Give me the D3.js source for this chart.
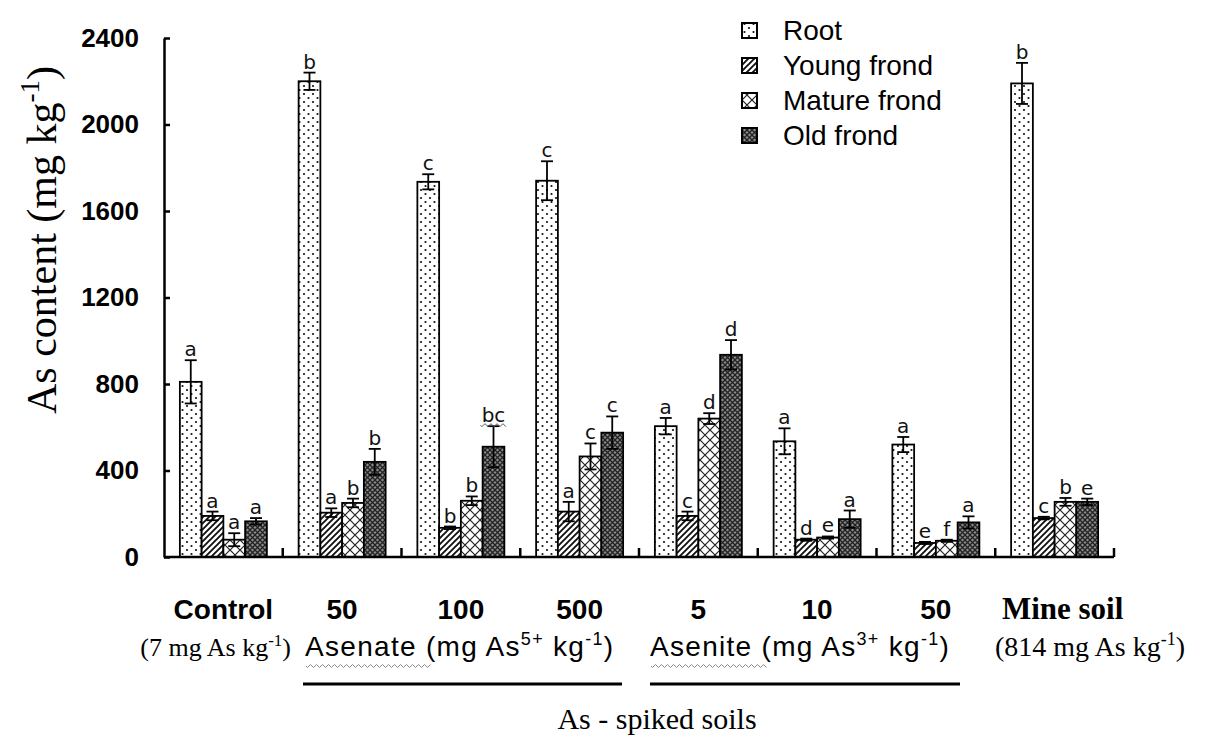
<html>
<head>
<title>As content</title>
<script src="https://d3js.org/d3.v7.min.js"></script>
<style>
body { margin: 0; background: #fff; }
svg { display: block; }
</style>
</head>
<body>
<div id="chart"></div>
<script>

var width = 1217;
var height = 741;
var plotLeft = 164, plotRight = 1114, plotTop = 38, plotBottom = 557;

// groups along the x axis
var groupKeys = ["control", "as5_50", "as5_100", "as5_500", "as3_5", "as3_10", "as3_50", "mine"];
var groupLabels = ["Control", "50", "100", "500", "5", "10", "50", "Mine soil"];
var series = ["Root", "Young frond", "Mature frond", "Old frond"];

// As content (mg/kg)
var root      = [810, 2200, 1735, 1740, 605, 535, 520, 2190];
var rootErr   = [100, 40, 35, 90, 38, 60, 35, 95];
var young     = [190, 205, 135, 210, 190, 80, 65, 180];
var youngErr  = [20, 20, 6, 45, 20, 5, 5, 6];
var mature    = [80, 250, 260, 465, 640, 90, 75, 255];
var matureErr = [30, 20, 20, 60, 25, 5, 5, 18];
var old       = [165, 440, 510, 575, 935, 175, 160, 255];
var oldErr    = [15, 60, 95, 75, 68, 40, 28, 15];

// significance letters
var rootLetters   = ["a", "b", "c", "c", "a", "a", "a", "b"];
var youngLetters  = ["a", "a", "b", "a", "c", "d", "e", "c"];
var matureLetters = ["a", "b", "b", "c", "d", "e", "f", "b"];
var oldLetters    = ["a", "b", "bc", "c", "d", "a", "a", "e"];

var yTicks = [0, 400, 800, 1200, 1600, 2000, 2400];

var values = [root, young, mature, old];
var errs = [rootErr, youngErr, matureErr, oldErr];
var letters = [rootLetters, youngLetters, matureLetters, oldLetters];

var bars = [];
groupKeys.forEach(function(g, i) {
  series.forEach(function(s, j) {
    bars.push({group: g, series: s, idx: j, value: values[j][i], err: errs[j][i], letter: letters[j][i]});
  });
});

var svg = d3.select("#chart")
  .append("svg")
  .attr("width", width)
  .attr("height", height);

var defs = svg.append("defs");

// Root: staggered dots
var p0 = defs.append("pattern").attr("id", "pat0")
  .attr("patternUnits", "userSpaceOnUse").attr("width", 9).attr("height", 8);
p0.append("rect").attr("width", 9).attr("height", 8).attr("fill", "#fff");
p0.append("circle").attr("cx", 2.5).attr("cy", 2).attr("r", 1.1).attr("fill", "#111");
p0.append("circle").attr("cx", 7).attr("cy", 6).attr("r", 1.1).attr("fill", "#111");

// Young frond: diagonal hatch
var p1 = defs.append("pattern").attr("id", "pat1")
  .attr("patternUnits", "userSpaceOnUse").attr("width", 6).attr("height", 6);
p1.append("rect").attr("width", 6).attr("height", 6).attr("fill", "#fff");
p1.append("path").attr("d", "M0,6 L6,0 M-1.5,1.5 L1.5,-1.5 M4.5,7.5 L7.5,4.5")
  .attr("stroke", "#111").attr("stroke-width", 1.9);

// Mature frond: open cross hatch
var p2 = defs.append("pattern").attr("id", "pat2")
  .attr("patternUnits", "userSpaceOnUse").attr("width", 10).attr("height", 10);
p2.append("rect").attr("width", 10).attr("height", 10).attr("fill", "#fff");
p2.append("path").attr("d", "M0,0 L10,10 M10,0 L0,10")
  .attr("stroke", "#222").attr("stroke-width", 1.2);

// Old frond: dense dark cross hatch
var p3 = defs.append("pattern").attr("id", "pat3")
  .attr("patternUnits", "userSpaceOnUse").attr("width", 5).attr("height", 5);
p3.append("rect").attr("width", 5).attr("height", 5).attr("fill", "#8a8a8a");
p3.append("path").attr("d", "M0,0 L5,5 M5,0 L0,5")
  .attr("stroke", "#222").attr("stroke-width", 1.3);

var x0 = d3.scaleBand()
  .domain(groupKeys)
  .range([plotLeft, plotRight]);

var x1 = d3.scaleBand()
  .domain(series)
  .range([0, x0.bandwidth()])
  .paddingOuter(0.73);

var y = d3.scaleLinear()
  .domain([0, 2400])
  .range([plotBottom, plotTop]);

// bars
svg.append("g").selectAll("rect")
  .data(bars)
  .enter()
    .append("rect")
    .attr("x", d => x0(d.group) + x1(d.series))
    .attr("y", d => y(d.value))
    .attr("width", x1.bandwidth())
    .attr("height", d => y(0) - y(d.value))
    .attr("fill", d => "url(#pat" + d.idx + ")")
    .attr("stroke", "#000")
    .attr("stroke-width", 1.8);

// error bars
var eb = svg.append("g").attr("stroke", "#000").attr("stroke-width", 1.8);
bars.forEach(function(d) {
  var cx = x0(d.group) + x1(d.series) + x1.bandwidth() / 2;
  var hi = y(d.value + d.err), lo = y(d.value - d.err);
  eb.append("line").attr("x1", cx).attr("x2", cx).attr("y1", hi).attr("y2", lo);
  eb.append("line").attr("x1", cx - 6).attr("x2", cx + 6).attr("y1", hi).attr("y2", hi);
  eb.append("line").attr("x1", cx - 6).attr("x2", cx + 6).attr("y1", lo).attr("y2", lo);
});

// letters
svg.append("g").selectAll("text")
  .data(bars)
  .enter()
    .append("text")
    .attr("x", d => x0(d.group) + x1(d.series) + x1.bandwidth() / 2)
    .attr("y", d => y(d.value + d.err) - 4)
    .attr("text-anchor", "middle")
    .style("font-family", "'DejaVu Sans', sans-serif")
    .style("font-size", "20px")
    .style("fill", "#111")
    .text(d => d.letter);

// wavy spell-check mark
function wavy(x, yy, len) {
  var p = "M" + x + "," + yy;
  for (var i = 0; i < len; i += 3) {
    p += " L" + (x + i + 1.5) + "," + (yy + (i / 3 % 2 ? -1.5 : 1.5));
  }
  return p;
}
var bcBar = bars.filter(d => d.letter == "bc")[0];
var bcX = x0(bcBar.group) + x1(bcBar.series) + x1.bandwidth() / 2;
svg.append("path")
  .attr("d", wavy(bcX - 13, y(bcBar.value + bcBar.err) - 1, 26))
  .attr("fill", "none").attr("stroke", "#555").attr("stroke-width", 1);

// y axis: ticks pointing inward
var yAxis = svg.append("g")
  .attr("transform", "translate(" + plotLeft + ",0)")
  .call(d3.axisLeft(y).tickValues(yTicks).tickFormat(d3.format("d"))
    .tickSizeInner(-6).tickSizeOuter(0).tickPadding(25));
yAxis.select(".domain").attr("stroke-width", 2.5);
yAxis.selectAll(".tick line").attr("stroke-width", 2.5);
yAxis.selectAll("text")
  .style("font-family", "'Liberation Sans', Arial, sans-serif")
  .style("font-weight", "bold")
  .style("font-size", "26px")
  .attr("fill", "#000");

// x axis: baseline with inward ticks at group boundaries
svg.append("line")
  .attr("x1", plotLeft).attr("x2", plotRight)
  .attr("y1", y(0)).attr("y2", y(0))
  .attr("stroke", "#000").attr("stroke-width", 2.5);
var bounds = groupKeys.slice(1).map(g => x0(g)).concat([x0.range()[1]]);
svg.append("g").selectAll("line")
  .data(bounds)
  .enter()
    .append("line")
    .attr("x1", d => d).attr("x2", d => d)
    .attr("y1", y(0)).attr("y2", y(0) - 9)
    .attr("stroke", "#000").attr("stroke-width", 2.5);

var serif = "'Liberation Serif', 'Times New Roman', serif";
var sans = "'Liberation Sans', Arial, sans-serif";

// group labels
svg.append("g").selectAll("text")
  .data(groupKeys)
  .enter()
    .append("text")
    .attr("x", d => x0(d) + x0.bandwidth() / 2)
    .attr("dx", (d, i) => i == 7 ? 8 : 0)
    .attr("y", 619)
    .attr("text-anchor", "middle")
    .style("font-family", (d, i) => i == 7 ? serif : sans)
    .style("font-weight", "bold")
    .style("font-size", (d, i) => i == 7 ? "31px" : "28px")
    .text((d, i) => groupLabels[i]);

// text with superscripts; parts = [text, isSup]
function supText(sel, parts, size) {
  var shift = Math.round(size * 0.4);
  var up = false;
  parts.forEach(function(p) {
    var t = sel.append("tspan").text(p[0]);
    if (p[1]) {
      t.attr("dy", -shift).style("font-size", Math.round(size * 0.65) + "px");
      up = true;
    } else if (up) {
      t.attr("dy", shift);
      up = false;
    }
  });
}

var t1 = svg.append("text").attr("x", 291).attr("y", 656)
  .attr("text-anchor", "end").style("font-family", serif).style("font-size", "26px");
supText(t1, [["(7 mg As kg"], ["-1", true], [")"]], 26);

var t2 = svg.append("text").attr("x", 305).attr("y", 656)
  .style("font-family", sans).style("font-size", "28px").style("letter-spacing", "1.3px");
supText(t2, [["Asenate (mg As"], ["5+", true], [" kg"], ["-1", true], [")"]], 28);

var t3 = svg.append("text").attr("x", 650).attr("y", 656)
  .style("font-family", sans).style("font-size", "28px").style("letter-spacing", "1.3px");
supText(t3, [["Asenite (mg As"], ["3+", true], [" kg"], ["-1", true], [")"]], 28);

var t4 = svg.append("text").attr("x", 995).attr("y", 656)
  .style("font-family", serif).style("font-size", "28px");
supText(t4, [["(814 mg As kg"], ["-1", true], [")"]], 28);

// spell-check squiggles
svg.append("path").attr("d", wavy(306, 666, 124))
  .attr("fill", "none").attr("stroke", "#888").attr("stroke-width", 1);
svg.append("path").attr("d", wavy(651, 666, 116))
  .attr("fill", "none").attr("stroke", "#888").attr("stroke-width", 1);

// underlines of the spiked-soil groups
svg.append("line").attr("x1", 303).attr("x2", 622).attr("y1", 684).attr("y2", 684)
  .attr("stroke", "#000").attr("stroke-width", 3);
svg.append("line").attr("x1", 650).attr("x2", 960).attr("y1", 684).attr("y2", 684)
  .attr("stroke", "#000").attr("stroke-width", 3);

svg.append("text")
  .attr("x", 657).attr("y", 729)
  .attr("text-anchor", "middle")
  .style("font-family", serif)
  .style("font-size", "30px")
  .text("As - spiked  soils");

// y title
var yt = svg.append("text")
  .attr("transform", "translate(56,240) rotate(-90)")
  .attr("text-anchor", "middle")
  .style("font-family", serif)
  .style("font-size", "42px");
supText(yt, [["As content (mg kg"], ["-1", true], [")"]], 42);

// legend
var legend = svg.append("g").attr("transform", "translate(742,30)");
series.forEach(function(s, j) {
  var row = legend.append("g").attr("transform", "translate(0," + (j * 35) + ")");
  row.append("rect").attr("x", 0).attr("y", -7).attr("width", 15).attr("height", 15)
    .attr("fill", "url(#pat" + j + ")").attr("stroke", "#000").attr("stroke-width", 2);
  row.append("text").attr("x", 41).attr("y", 10)
    .style("font-family", sans).style("font-size", "28px").text(s);
});

</script>
</body>
</html>
